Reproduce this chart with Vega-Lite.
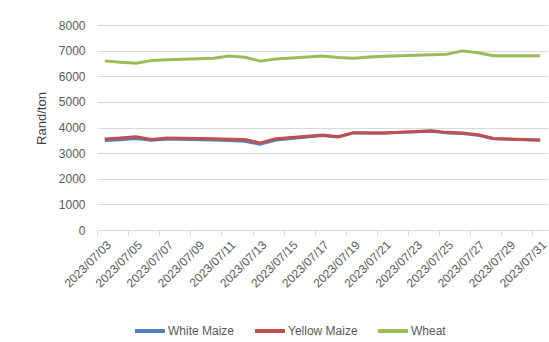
{
  "$schema": "https://vega.github.io/schema/vega-lite/v6.json",
  "autosize": "none",
  "width": 451,
  "height": 205,
  "padding": {"left": 97, "top": 25, "right": 1, "bottom": 112},
  "background": "white",
  "config": {
    "view": {"stroke": null},
    "font": "Liberation Sans"
  },
  "data": {
    "values": [
      {"date": "2023-07-03", "series": "White Maize", "value": 3490},
      {"date": "2023-07-04", "series": "White Maize", "value": 3520},
      {"date": "2023-07-05", "series": "White Maize", "value": 3570},
      {"date": "2023-07-06", "series": "White Maize", "value": 3500},
      {"date": "2023-07-07", "series": "White Maize", "value": 3550},
      {"date": "2023-07-10", "series": "White Maize", "value": 3510},
      {"date": "2023-07-11", "series": "White Maize", "value": 3490},
      {"date": "2023-07-12", "series": "White Maize", "value": 3460},
      {"date": "2023-07-13", "series": "White Maize", "value": 3350},
      {"date": "2023-07-14", "series": "White Maize", "value": 3510},
      {"date": "2023-07-17", "series": "White Maize", "value": 3690},
      {"date": "2023-07-18", "series": "White Maize", "value": 3630},
      {"date": "2023-07-19", "series": "White Maize", "value": 3790},
      {"date": "2023-07-20", "series": "White Maize", "value": 3790},
      {"date": "2023-07-21", "series": "White Maize", "value": 3790},
      {"date": "2023-07-24", "series": "White Maize", "value": 3850},
      {"date": "2023-07-25", "series": "White Maize", "value": 3790},
      {"date": "2023-07-26", "series": "White Maize", "value": 3770},
      {"date": "2023-07-27", "series": "White Maize", "value": 3700},
      {"date": "2023-07-28", "series": "White Maize", "value": 3560},
      {"date": "2023-07-31", "series": "White Maize", "value": 3500},
      {"date": "2023-07-03", "series": "Yellow Maize", "value": 3550},
      {"date": "2023-07-04", "series": "Yellow Maize", "value": 3590},
      {"date": "2023-07-05", "series": "Yellow Maize", "value": 3640},
      {"date": "2023-07-06", "series": "Yellow Maize", "value": 3530},
      {"date": "2023-07-07", "series": "Yellow Maize", "value": 3590},
      {"date": "2023-07-10", "series": "Yellow Maize", "value": 3560},
      {"date": "2023-07-11", "series": "Yellow Maize", "value": 3540},
      {"date": "2023-07-12", "series": "Yellow Maize", "value": 3530},
      {"date": "2023-07-13", "series": "Yellow Maize", "value": 3400},
      {"date": "2023-07-14", "series": "Yellow Maize", "value": 3560},
      {"date": "2023-07-17", "series": "Yellow Maize", "value": 3710},
      {"date": "2023-07-18", "series": "Yellow Maize", "value": 3640},
      {"date": "2023-07-19", "series": "Yellow Maize", "value": 3800},
      {"date": "2023-07-20", "series": "Yellow Maize", "value": 3790},
      {"date": "2023-07-21", "series": "Yellow Maize", "value": 3790},
      {"date": "2023-07-24", "series": "Yellow Maize", "value": 3870},
      {"date": "2023-07-25", "series": "Yellow Maize", "value": 3810},
      {"date": "2023-07-26", "series": "Yellow Maize", "value": 3790},
      {"date": "2023-07-27", "series": "Yellow Maize", "value": 3720},
      {"date": "2023-07-28", "series": "Yellow Maize", "value": 3570},
      {"date": "2023-07-31", "series": "Yellow Maize", "value": 3510},
      {"date": "2023-07-03", "series": "Wheat", "value": 6600},
      {"date": "2023-07-04", "series": "Wheat", "value": 6550},
      {"date": "2023-07-05", "series": "Wheat", "value": 6510},
      {"date": "2023-07-06", "series": "Wheat", "value": 6610},
      {"date": "2023-07-07", "series": "Wheat", "value": 6640},
      {"date": "2023-07-10", "series": "Wheat", "value": 6700},
      {"date": "2023-07-11", "series": "Wheat", "value": 6790},
      {"date": "2023-07-12", "series": "Wheat", "value": 6740},
      {"date": "2023-07-13", "series": "Wheat", "value": 6590},
      {"date": "2023-07-14", "series": "Wheat", "value": 6670},
      {"date": "2023-07-17", "series": "Wheat", "value": 6790},
      {"date": "2023-07-18", "series": "Wheat", "value": 6730},
      {"date": "2023-07-19", "series": "Wheat", "value": 6700},
      {"date": "2023-07-20", "series": "Wheat", "value": 6750},
      {"date": "2023-07-21", "series": "Wheat", "value": 6780},
      {"date": "2023-07-24", "series": "Wheat", "value": 6840},
      {"date": "2023-07-25", "series": "Wheat", "value": 6860},
      {"date": "2023-07-26", "series": "Wheat", "value": 6990},
      {"date": "2023-07-27", "series": "Wheat", "value": 6920},
      {"date": "2023-07-28", "series": "Wheat", "value": 6800},
      {"date": "2023-07-31", "series": "Wheat", "value": 6800}
    ]
  },
  "mark": {"type": "line", "strokeWidth": 3, "strokeJoin": "round"},
  "encoding": {
    "x": {
      "field": "date",
      "type": "temporal",
      "scale": {
        "type": "utc",
        "domain": [
          {"year": 2023, "month": 7, "date": 2, "hours": 12, "utc": true},
          {"year": 2023, "month": 7, "date": 31, "hours": 12, "utc": true}
        ]
      },
      "axis": {
        "title": null,
        "grid": false,
        "values": [
          {"year": 2023, "month": 7, "date": 2, "hours": 12, "utc": true},
          {"year": 2023, "month": 7, "date": 4, "hours": 12, "utc": true},
          {"year": 2023, "month": 7, "date": 6, "hours": 12, "utc": true},
          {"year": 2023, "month": 7, "date": 8, "hours": 12, "utc": true},
          {"year": 2023, "month": 7, "date": 10, "hours": 12, "utc": true},
          {"year": 2023, "month": 7, "date": 12, "hours": 12, "utc": true},
          {"year": 2023, "month": 7, "date": 14, "hours": 12, "utc": true},
          {"year": 2023, "month": 7, "date": 16, "hours": 12, "utc": true},
          {"year": 2023, "month": 7, "date": 18, "hours": 12, "utc": true},
          {"year": 2023, "month": 7, "date": 20, "hours": 12, "utc": true},
          {"year": 2023, "month": 7, "date": 22, "hours": 12, "utc": true},
          {"year": 2023, "month": 7, "date": 24, "hours": 12, "utc": true},
          {"year": 2023, "month": 7, "date": 26, "hours": 12, "utc": true},
          {"year": 2023, "month": 7, "date": 28, "hours": 12, "utc": true},
          {"year": 2023, "month": 7, "date": 30, "hours": 12, "utc": true}
        ],
        "labelExpr": "utcFormat(datum.value + 43200000, '%Y/%m/%d')",
        "labelOffset": 8,
        "labelAngle": -45,
        "labelAlign": "right",
        "labelBaseline": "top",
        "labelFontSize": 12,
        "labelColor": "#595959",
        "labelPadding": 4,
        "labelOverlap": false,
        "labelFlush": false,
        "domainColor": "#D9D9D9",
        "tickColor": "#D9D9D9",
        "tickSize": 5
      }
    },
    "y": {
      "field": "value",
      "type": "quantitative",
      "scale": {"domain": [0, 8000], "nice": false},
      "axis": {
        "title": "Rand/ton",
        "titleFontSize": 13,
        "titleFontWeight": "normal",
        "titleColor": "#404040",
        "titleX": -49,
        "titleY": 93,
        "values": [0, 1000, 2000, 3000, 4000, 5000, 6000, 7000, 8000],
        "format": "d",
        "domain": false,
        "ticks": false,
        "labelPadding": 12,
        "labelFontSize": 12,
        "labelColor": "#595959",
        "gridColor": "#D9D9D9",
        "gridWidth": 1
      }
    },
    "color": {
      "field": "series",
      "type": "nominal",
      "scale": {
        "domain": ["White Maize", "Yellow Maize", "Wheat"],
        "range": ["#4F81BD", "#C0504D", "#9BBB59"]
      },
      "legend": {
        "title": null,
        "orient": "none",
        "direction": "horizontal",
        "legendX": 36,
        "legendY": 289,
        "symbolType": "stroke",
        "symbolSize": 900,
        "symbolStrokeWidth": 4,
        "labelFontSize": 12,
        "labelColor": "#595959",
        "labelOffset": 1,
        "columnPadding": 12
      }
    }
  }
}
